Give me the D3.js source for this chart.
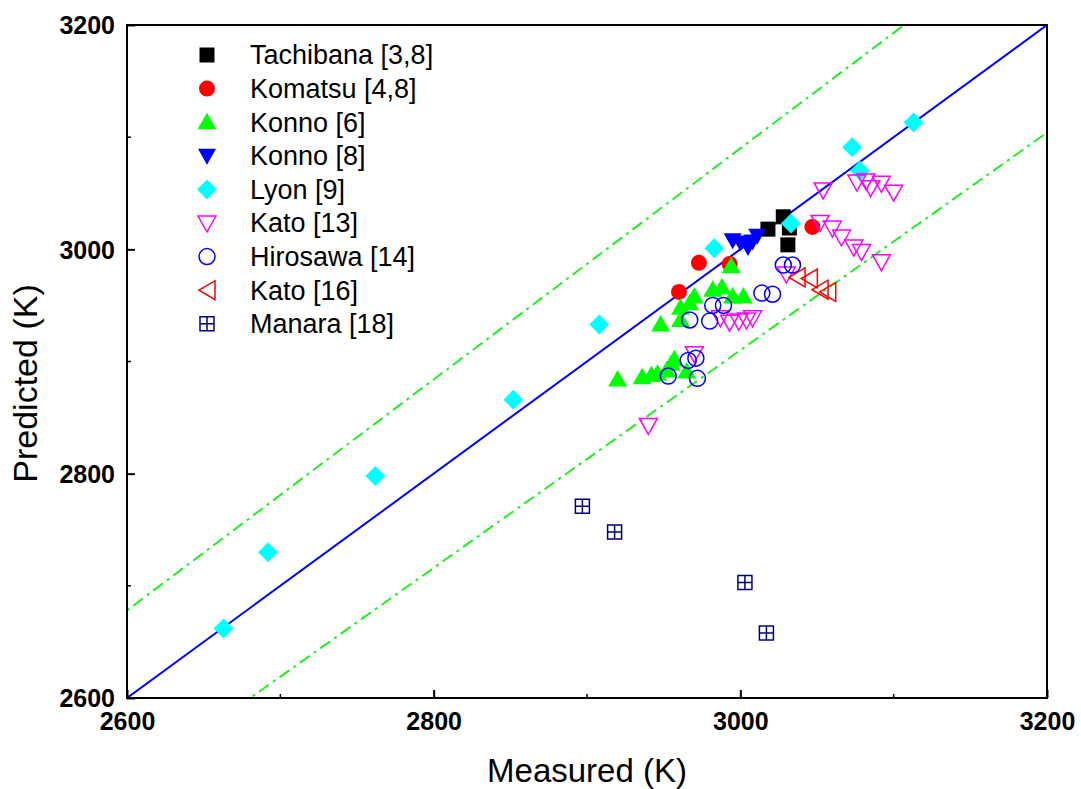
<!DOCTYPE html>
<html><head><meta charset="utf-8">
<script src="https://cdn.jsdelivr.net/npm/d3@7"></script>
<style>body{margin:0;background:#fff}svg{display:block}</style>
</head><body>
<svg id="chart" width="1081" height="789"></svg>
<script>
// ---- data ----
const xTicks = [2600, 2800, 3000, 3200];
const yTicks = [2600, 2800, 3000, 3200];
const minorTicks = [2700, 2900, 3100];
const bandRatio = [1.03, 0.97];

const tachibana = [[3018,3018],[3028,3029],[3032,3019],[3031,3004]];
const komatsu = [[2973,2988],[2960,2962],[2993,2987],[3047,3020]];
const konno6 = [[2920,2884],[2936,2886],[2942,2888],[2946,2889],[2952,2892],[2955,2898],[2957,2902],[2965,2891],[2948,2933],[2961,2948],[2961,2937],[2967,2952],[2970,2958],[2982,2964],[2988,2966],[2995,2958],[3002,2958],[2994,2985]];
const konno8 = [[2995,3008],[3000,3006],[3005,3002],[3008,3007],[3011,3012]];
const lyon = [[2663,2662],[2692,2730],[2762,2798],[2852,2866],[2908,2933],[2983,3001],[3033,3023],[3073,3091],[3078,3070],[3113,3113]];
const kato13 = [[3054,3053],[3076,3060],[3082,3061],[3085,3055],[3092,3059],[3100,3051],[3052,3024],[3060,3019],[3066,3011],[3074,3002],[3079,2998],[3092,2989],[2987,2939],[2993,2935],[2999,2936],[3004,2937],[3008,2939],[2970,2907],[2940,2843],[3030,2978]];
const hirosawa = [[3028,2986],[3034,2986],[3014,2961],[3021,2960],[2982,2950],[2989,2950],[2967,2937],[2980,2936],[2966,2901],[2971,2903],[2953,2887],[2972,2885]];
const kato16 = [[3037,2975],[3045,2974],[3052,2964],[3057,2962]];
const manara = [[2897,2771],[2918,2748],[3003,2703],[3017,2658]];

const seriesNames = ["Tachibana [3,8]","Komatsu [4,8]","Konno [6]","Konno [8]","Lyon [9]","Kato [13]","Hirosawa [14]","Kato [16]","Manara [18]"];
const seriesData = [tachibana, komatsu, konno6, konno8, lyon, kato13, hirosawa, kato16, manara];

// ---- styles ----
const styles = [
  {shape:"square", fill:"#000000", stroke:"none"},
  {shape:"circle", fill:"#ff0000", stroke:"none"},
  {shape:"triUp", fill:"#00ff00", stroke:"none"},
  {shape:"triDown", fill:"#0000ff", stroke:"none"},
  {shape:"diamond", fill:"#00ffff", stroke:"none"},
  {shape:"triDown", fill:"none", stroke:"#ff00ff"},
  {shape:"circle", fill:"none", stroke:"#0000ff"},
  {shape:"triLeft", fill:"none", stroke:"#ff0000"},
  {shape:"boxPlus", fill:"none", stroke:"#000080"}
];

function shapePath(s) {
  switch (s) {
    case "square": return "M-7.5,-7.5H7.5V7.5H-7.5Z";
    case "circle": return "M8,0A8,8 0 1,1 -8,0A8,8 0 1,1 8,0Z";
    case "triUp": return "M0,-9.5L9.5,7L-9.5,7Z";
    case "triDown": return "M0,9L9,-7L-9,-7Z";
    case "triLeft": return "M-8,0L8,-9.5L8,9.5Z";
    case "diamond": return "M0,-10L10,0L0,10L-10,0Z";
    case "boxPlus": return "M-7,-7H7V7H-7ZM0,-7V7M-7,0H7";
  }
}

const svg = d3.select("#chart");
const W = 1081, H = 789;
const m = {left:127, right:1081-1047, top:25, bottom:789-698};
const x = d3.scaleLinear().domain([2600, 3200]).range([m.left, W - m.right]);
const y = d3.scaleLinear().domain([2600, 3200]).range([H - m.bottom, m.top]);

svg.append("clipPath").attr("id","clip").append("rect")
  .attr("x", m.left).attr("y", m.top)
  .attr("width", x(3200)-x(2600)).attr("height", y(2600)-y(3200));

const plot = svg.append("g").attr("clip-path","url(#clip)");

// band lines (±3%)
bandRatio.forEach(r => {
  const pts = d3.range(2500, 3301, 100).map(v => [v, v*r]);
  plot.append("path")
    .attr("d", d3.line().x(d => x(d[0])).y(d => y(d[1]))(pts))
    .attr("fill","none").attr("stroke","#22ee22").attr("stroke-width",2)
    .attr("stroke-dasharray","12,5,3,5");
});
// identity line
plot.append("path")
  .attr("d", d3.line().x(d => x(d[0])).y(d => y(d[1]))([[2600,2600],[3200,3200]]))
  .attr("fill","none").attr("stroke","#0000ff").attr("stroke-width",2);

// points
seriesData.forEach((data, i) => {
  const st = styles[i];
  plot.append("g").selectAll("path").data(data).join("path")
    .attr("transform", d => `translate(${x(d[0])},${y(d[1])})`)
    .attr("d", shapePath(st.shape))
    .attr("fill", st.fill)
    .attr("stroke", st.stroke)
    .attr("stroke-width", st.stroke === "none" ? 0 : 1.5);
});

// frame
svg.append("rect").attr("x", m.left).attr("y", m.top)
  .attr("width", x(3200)-x(2600)).attr("height", y(2600)-y(3200))
  .attr("fill","none").attr("stroke","#000").attr("stroke-width",2);

// axes ticks (inward)
const xAxis = d3.axisBottom(x).tickValues(xTicks).tickSize(-8).tickPadding(14).tickFormat(d3.format("d"));
const gx = svg.append("g").attr("transform", `translate(0,${y(2600)})`).call(xAxis);
const yAxis = d3.axisLeft(y).tickValues(yTicks).tickSize(-8).tickPadding(12).tickFormat(d3.format("d"));
const gy = svg.append("g").attr("transform", `translate(${x(2600)},0)`).call(yAxis);
[gx, gy].forEach(g => {
  g.select(".domain").remove();
  g.selectAll(".tick line").attr("stroke","#000").attr("stroke-width",2);
  g.selectAll(".tick text").attr("font-family","'Liberation Sans', Arial, sans-serif")
    .attr("font-size", 25).attr("font-weight","bold").attr("fill","#000");
});
gy.selectAll(".tick text").attr("dy","0.35em");
// minor ticks
svg.append("g").selectAll("line").data(minorTicks).join("line")
  .attr("x1", d => x(d)).attr("x2", d => x(d))
  .attr("y1", y(2600)).attr("y2", y(2600) - 4)
  .attr("stroke","#000").attr("stroke-width",1.5);
svg.append("g").selectAll("line").data(minorTicks).join("line")
  .attr("y1", d => y(d)).attr("y2", d => y(d))
  .attr("x1", x(2600)).attr("x2", x(2600) + 4)
  .attr("stroke","#000").attr("stroke-width",1.5);

// axis titles
svg.append("text").attr("x", (x(2600)+x(3200))/2).attr("y", 782)
  .attr("text-anchor","middle").attr("font-family","'Liberation Sans', Arial, sans-serif")
  .attr("font-size", 33).text("Measured (K)");
svg.append("text").attr("transform", `translate(37,${(y(2600)+y(3200))/2 + 22}) rotate(-90)`)
  .attr("text-anchor","middle").attr("font-family","'Liberation Sans', Arial, sans-serif")
  .attr("font-size", 34).text("Predicted (K)");

// legend
const leg = svg.append("g");
seriesNames.forEach((name, i) => {
  const st = styles[i];
  const cy = 55 + i * 33.6;
  leg.append("path").attr("transform", `translate(207,${cy})`)
    .attr("d", shapePath(st.shape)).attr("fill", st.fill).attr("stroke", st.stroke)
    .attr("stroke-width", st.stroke === "none" ? 0 : 1.5);
  leg.append("text").attr("x", 250).attr("y", cy).attr("dy","0.35em")
    .attr("font-family","'Liberation Sans', Arial, sans-serif").attr("font-size", 27)
    .attr("fill","#000").text(name);
});
</script>
</body></html>
